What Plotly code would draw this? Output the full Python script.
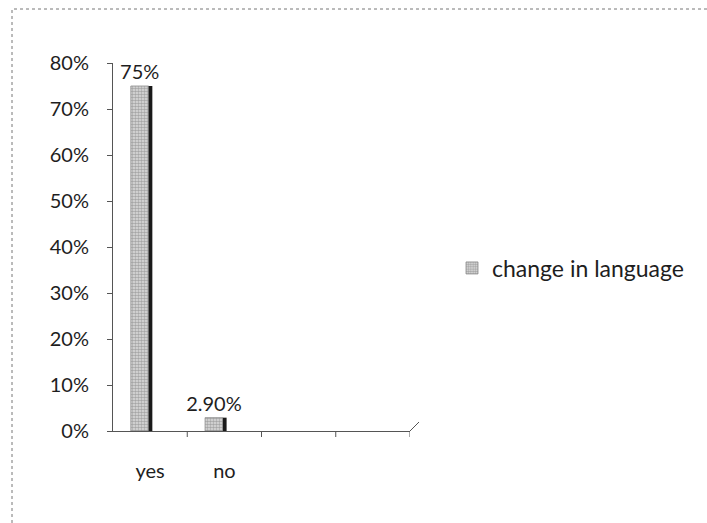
import plotly.graph_objects as go

# Survey answers for "change in language"
categories = ["yes", "no"]
shares = [0.75, 0.029]
value_labels = ["75%", "2.90%"]
series_name = "change in language"
y_ticks = [0, 0.1, 0.2, 0.3, 0.4, 0.5, 0.6, 0.7, 0.8]
y_tick_text = ["0%", "10%", "20%", "30%", "40%", "50%", "60%", "70%", "80%"]

FONT = "Lato, 'Open Sans', sans-serif"
INK = "#1e1e1e"

fig = go.Figure()
# front face of each column (grainy grey)
fig.add_trace(go.Bar(
    x=categories,
    y=shares,
    name=series_name,
    width=0.24,
    offset=-0.26,
    text=value_labels,
    textposition="outside",
    constraintext="none",
    textfont=dict(family=FONT, size=20, color=INK),
    cliponaxis=False,
    marker=dict(
        color="#d0d0d0",
        line=dict(color="#8a8a8a", width=0.8),
        pattern=dict(shape=".", fgcolor="#6e6e6e", bgcolor="#dedede",
                     size=3, solidity=0.55),
    ),
    showlegend=True,
))
# dark side face of each column
fig.add_trace(go.Bar(
    x=categories,
    y=shares,
    name=series_name,
    width=0.05,
    offset=-0.02,
    marker=dict(color="#1a1a1a", line=dict(width=0)),
    showlegend=False,
    hoverinfo="skip",
))

# plot area in pixels
L, R, T, B = 113, 410, 63, 431
W, H = 707, 523
pw, ph = R - L, B - T

def px_x(p):
    return (p - L) / pw

def px_y(p):
    return (B - p) / ph

shapes = []
# category boundary ticks along the floor
for xb in [0.5, 1.5, 2.5, 3.5]:
    shapes.append(dict(type="line", xref="x", yref="paper", x0=xb, x1=xb,
                       y0=0, y1=px_y(B + 6), line=dict(color="#555", width=1)))
# floor edge receding in depth
shapes.append(dict(type="line", xref="paper", yref="paper",
                   x0=px_x(R), y0=px_y(B), x1=px_x(R + 9), y1=px_y(B - 9),
                   line=dict(color="#555", width=1)))
# outer chart frame
shapes.append(dict(type="rect", xref="paper", yref="paper",
                   x0=px_x(12), y0=px_y(530), x1=px_x(720), y1=px_y(9),
                   line=dict(color="#777", width=1, dash="dot")))

fig.update_layout(
    width=W, height=H,
    margin=dict(l=L, r=W - R, t=T, b=H - B),
    paper_bgcolor="white",
    plot_bgcolor="white",
    font=dict(family=FONT, size=20, color=INK),
    barmode="overlay",
    shapes=shapes,
    legend=dict(
        x=px_x(452), y=px_y(268), xanchor="left", yanchor="middle",
        font=dict(family=FONT, size=23, color=INK),
        bgcolor="rgba(0,0,0,0)",
        itemwidth=30,
    ),
    xaxis=dict(
        type="category",
        categoryarray=categories,
        range=[-0.5, 3.5],
        showline=True, linecolor="#555", linewidth=1,
        ticks="", showgrid=False, zeroline=False,
        ticklabelstandoff=22,
        tickfont=dict(family=FONT, size=20, color=INK),
    ),
    yaxis=dict(
        range=[0, 0.8],
        tickvals=y_ticks,
        ticktext=y_tick_text,
        showline=True, linecolor="#555", linewidth=1,
        ticks="outside", ticklen=5, tickcolor="#555",
        showgrid=False, zeroline=False,
        ticklabelstandoff=14,
        tickfont=dict(family=FONT, size=20, color=INK),
    ),
)

fig.write_html("out.html")
